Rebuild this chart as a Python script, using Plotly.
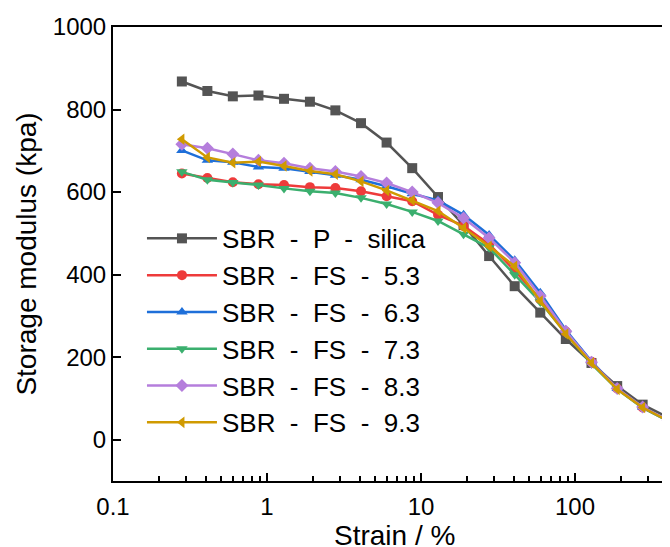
import plotly.graph_objects as go

# strain sweep points (%)
strain = [0.28, 0.41, 0.60, 0.88, 1.29, 1.90, 2.78, 4.08, 5.98, 8.77,
          12.9, 18.9, 27.7, 40.6, 59.5, 87.2, 128, 188, 275, 403]

sbr_p_silica = [868, 845, 832, 834, 826, 819, 798, 767, 720, 658,
                588, 520, 445, 372, 308, 244, 186, 130, 85, 54]
sbr_fs_53 = [645, 634, 624, 619, 617, 612, 610, 602, 590, 578,
             545, 518, 474, 410, 340, 262, 189, 124, 78, 46]
sbr_fs_63 = [701, 677, 672, 661, 658, 650, 641, 630, 614, 596,
             580, 545, 496, 435, 356, 266, 190, 124, 79, 46]
sbr_fs_73 = [649, 630, 623, 617, 609, 602, 598, 586, 571, 552,
             530, 498, 465, 400, 334, 258, 184, 122, 77, 45]
sbr_fs_83 = [716, 706, 692, 677, 670, 658, 650, 638, 622, 600,
             574, 537, 489, 429, 348, 263, 188, 124, 79, 47]
sbr_fs_93 = [728, 684, 671, 674, 663, 651, 643, 626, 604, 580,
             554, 513, 469, 420, 336, 256, 186, 122, 78, 46]

SP = ' \u00a0'
names = ['SBR' + SP + '-' + SP + 'P' + SP + '-' + SP + 'silica',
         'SBR' + SP + '-' + SP + 'FS' + SP + '-' + SP + '5.3',
         'SBR' + SP + '-' + SP + 'FS' + SP + '-' + SP + '6.3',
         'SBR' + SP + '-' + SP + 'FS' + SP + '-' + SP + '7.3',
         'SBR' + SP + '-' + SP + 'FS' + SP + '-' + SP + '8.3',
         'SBR' + SP + '-' + SP + 'FS' + SP + '-' + SP + '9.3']
series = [sbr_p_silica, sbr_fs_53, sbr_fs_63, sbr_fs_73, sbr_fs_83, sbr_fs_93]
colors = ['#545454', '#EE3B3B', '#1E6FD9', '#3BAF6E', '#B57EDC', '#D09A00']
symbols = ['square', 'circle', 'triangle-up', 'triangle-down', 'diamond',
           'triangle-left']

FONT = 'Liberation Sans, Arial, sans-serif'

fig = go.Figure()
for name, y, c, s in zip(names, series, colors, symbols):
    fig.add_trace(go.Scatter(x=strain, y=y, name=name, mode='lines+markers',
                             line=dict(color=c, width=2.5),
                             marker=dict(symbol=s, size=10, color=c)))

# the page body has an 8px margin, so the figure is 8px smaller each way
fig.update_layout(
    width=662, height=539,
    margin=dict(l=105, r=0, t=19, b=66),
    plot_bgcolor='white', paper_bgcolor='white',
    font=dict(family=FONT, size=24, color='black'),
    showlegend=True,
    legend=dict(x=0.052, y=0.586, xanchor='left', yanchor='top',
                font=dict(size=26), bgcolor='rgba(0,0,0,0)',
                itemwidth=70, tracegroupgap=0),
)
# x title as annotation so it can sit as low as in the original (partly cut)
fig.add_annotation(text='Strain / %', xref='paper', yref='paper',
                   x=0.506, y=-0.119, xanchor='center', yanchor='middle',
                   showarrow=False, font=dict(size=28))
fig.update_xaxes(
    type='log', range=[-1, 2.617], automargin=False,
    tickvals=[0.1, 1, 10, 100], ticktext=['0.1', '1', '10', '100'],
    ticks='inside', ticklen=8, tickwidth=1.5, tickcolor='black',
    ticklabelstandoff=3,
    minor=dict(ticks='inside', ticklen=5, tickwidth=1.5, tickcolor='black',
               dtick='D1'),
    showline=True, linecolor='black', linewidth=2, mirror=True,
    showgrid=False, zeroline=False,
)
fig.update_yaxes(
    range=[-100, 1000], tickvals=[0, 200, 400, 600, 800, 1000],
    automargin=False,
    ticks='inside', ticklen=8, tickwidth=1.5, tickcolor='black',
    showline=True, linecolor='black', linewidth=2,
    showgrid=False, zeroline=False,
    title=dict(text='Storage modulus (kpa)', font=dict(size=28), standoff=8),
)

fig.write_html('out.html')
